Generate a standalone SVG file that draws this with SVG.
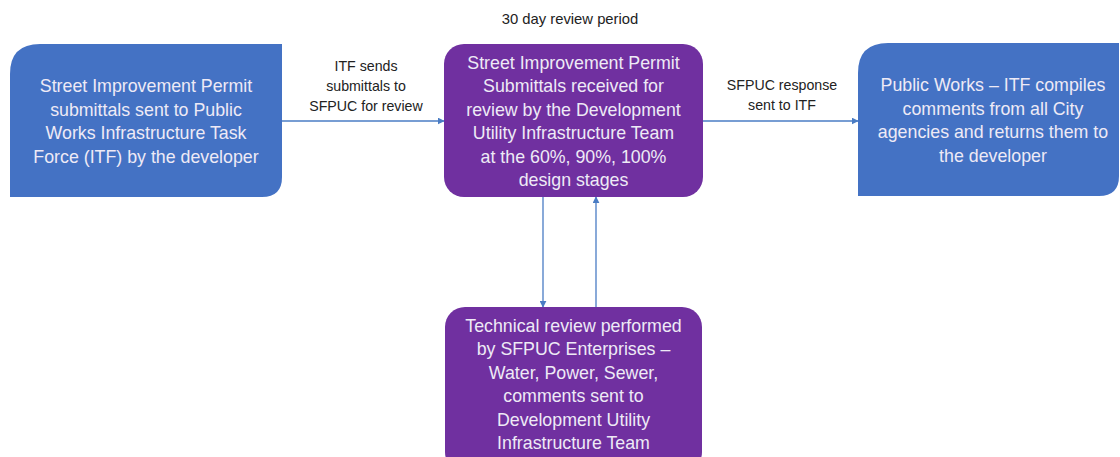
<svg xmlns="http://www.w3.org/2000/svg" width="1120" height="457" viewBox="0 0 1120 457">
<defs>
<style>
.blue{fill:#4472C4;}
.purple{fill:#7030A0;}
.nt{font-family:"Liberation Sans",Arial,sans-serif;font-size:17.8px;fill:#EEEAF6;text-anchor:middle;}
.lb{font-family:"Liberation Sans",Arial,sans-serif;font-size:14.2px;fill:#222;text-anchor:middle;}
.cn{stroke:#4A7CC4;stroke-width:1.3;fill:none;marker-end:url(#ah);}
</style>
<marker id="ah" viewBox="0 0 10 10" refX="9" refY="5" markerWidth="7" markerHeight="7" markerUnits="userSpaceOnUse" orient="auto">
<path d="M0,0 L10,5 L0,10 z" fill="#4A7CC4"/>
</marker>
</defs>
<rect width="1120" height="457" fill="#FFFFFF"/>
<g id="connectors">
<line class="cn" x1="282" y1="121" x2="444" y2="121"/>
<line class="cn" x1="703" y1="121" x2="858" y2="121"/>
<line class="cn" x1="543" y1="197" x2="543" y2="307"/>
<line class="cn" x1="596" y1="307" x2="596" y2="197"/>
</g>
<g id="labels">
<text class="lb" x="570" y="24" style="font-size:14.8px">30 day review period</text>
<text class="lb" x="366" y="71">ITF sends</text>
<text class="lb" x="366" y="91">submittals to</text>
<text class="lb" x="366" y="111">SFPUC for review</text>
<text class="lb" x="782" y="90">SFPUC response</text>
<text class="lb" x="782" y="110">sent to ITF</text>
</g>
<g id="node-start">
<path class="blue" d="M40,44 H282 V177 Q282,197 262,197 H10 V74 Q10,44 40,44 Z"/>
<text class="nt" x="146" y="92">Street Improvement Permit</text>
<text class="nt" x="146" y="115.5">submittals sent to Public</text>
<text class="nt" x="146" y="139">Works Infrastructure Task</text>
<text class="nt" x="146" y="162.5">Force (ITF) by the developer</text>
</g>
<g id="node-review">
<rect class="purple" x="444" y="44" width="259" height="153" rx="20" ry="20"/>
<text class="nt" x="573.5" y="68.5">Street Improvement Permit</text>
<text class="nt" x="573.5" y="92">Submittals received for</text>
<text class="nt" x="573.5" y="115.5">review by the Development</text>
<text class="nt" x="573.5" y="139">Utility Infrastructure Team</text>
<text class="nt" x="573.5" y="162.5">at the 60%, 90%, 100%</text>
<text class="nt" x="573.5" y="186">design stages</text>
</g>
<g id="node-compile">
<path class="blue" d="M888,43 H1119 V176 Q1119,196 1099,196 H858 V73 Q858,43 888,43 Z"/>
<text class="nt" x="993" y="91">Public Works – ITF compiles</text>
<text class="nt" x="993" y="114.5">comments from all City</text>
<text class="nt" x="993" y="138">agencies and returns them to</text>
<text class="nt" x="993" y="161.5">the developer</text>
</g>
<g id="node-technical">
<rect class="purple" x="445" y="307" width="257" height="165" rx="20" ry="20"/>
<text class="nt" x="573.5" y="331.5">Technical review performed</text>
<text class="nt" x="573.5" y="355">by SFPUC Enterprises –</text>
<text class="nt" x="573.5" y="378.5">Water, Power, Sewer,</text>
<text class="nt" x="573.5" y="402">comments sent to</text>
<text class="nt" x="573.5" y="425.5">Development Utility</text>
<text class="nt" x="573.5" y="449">Infrastructure Team</text>
</g>
</svg>
